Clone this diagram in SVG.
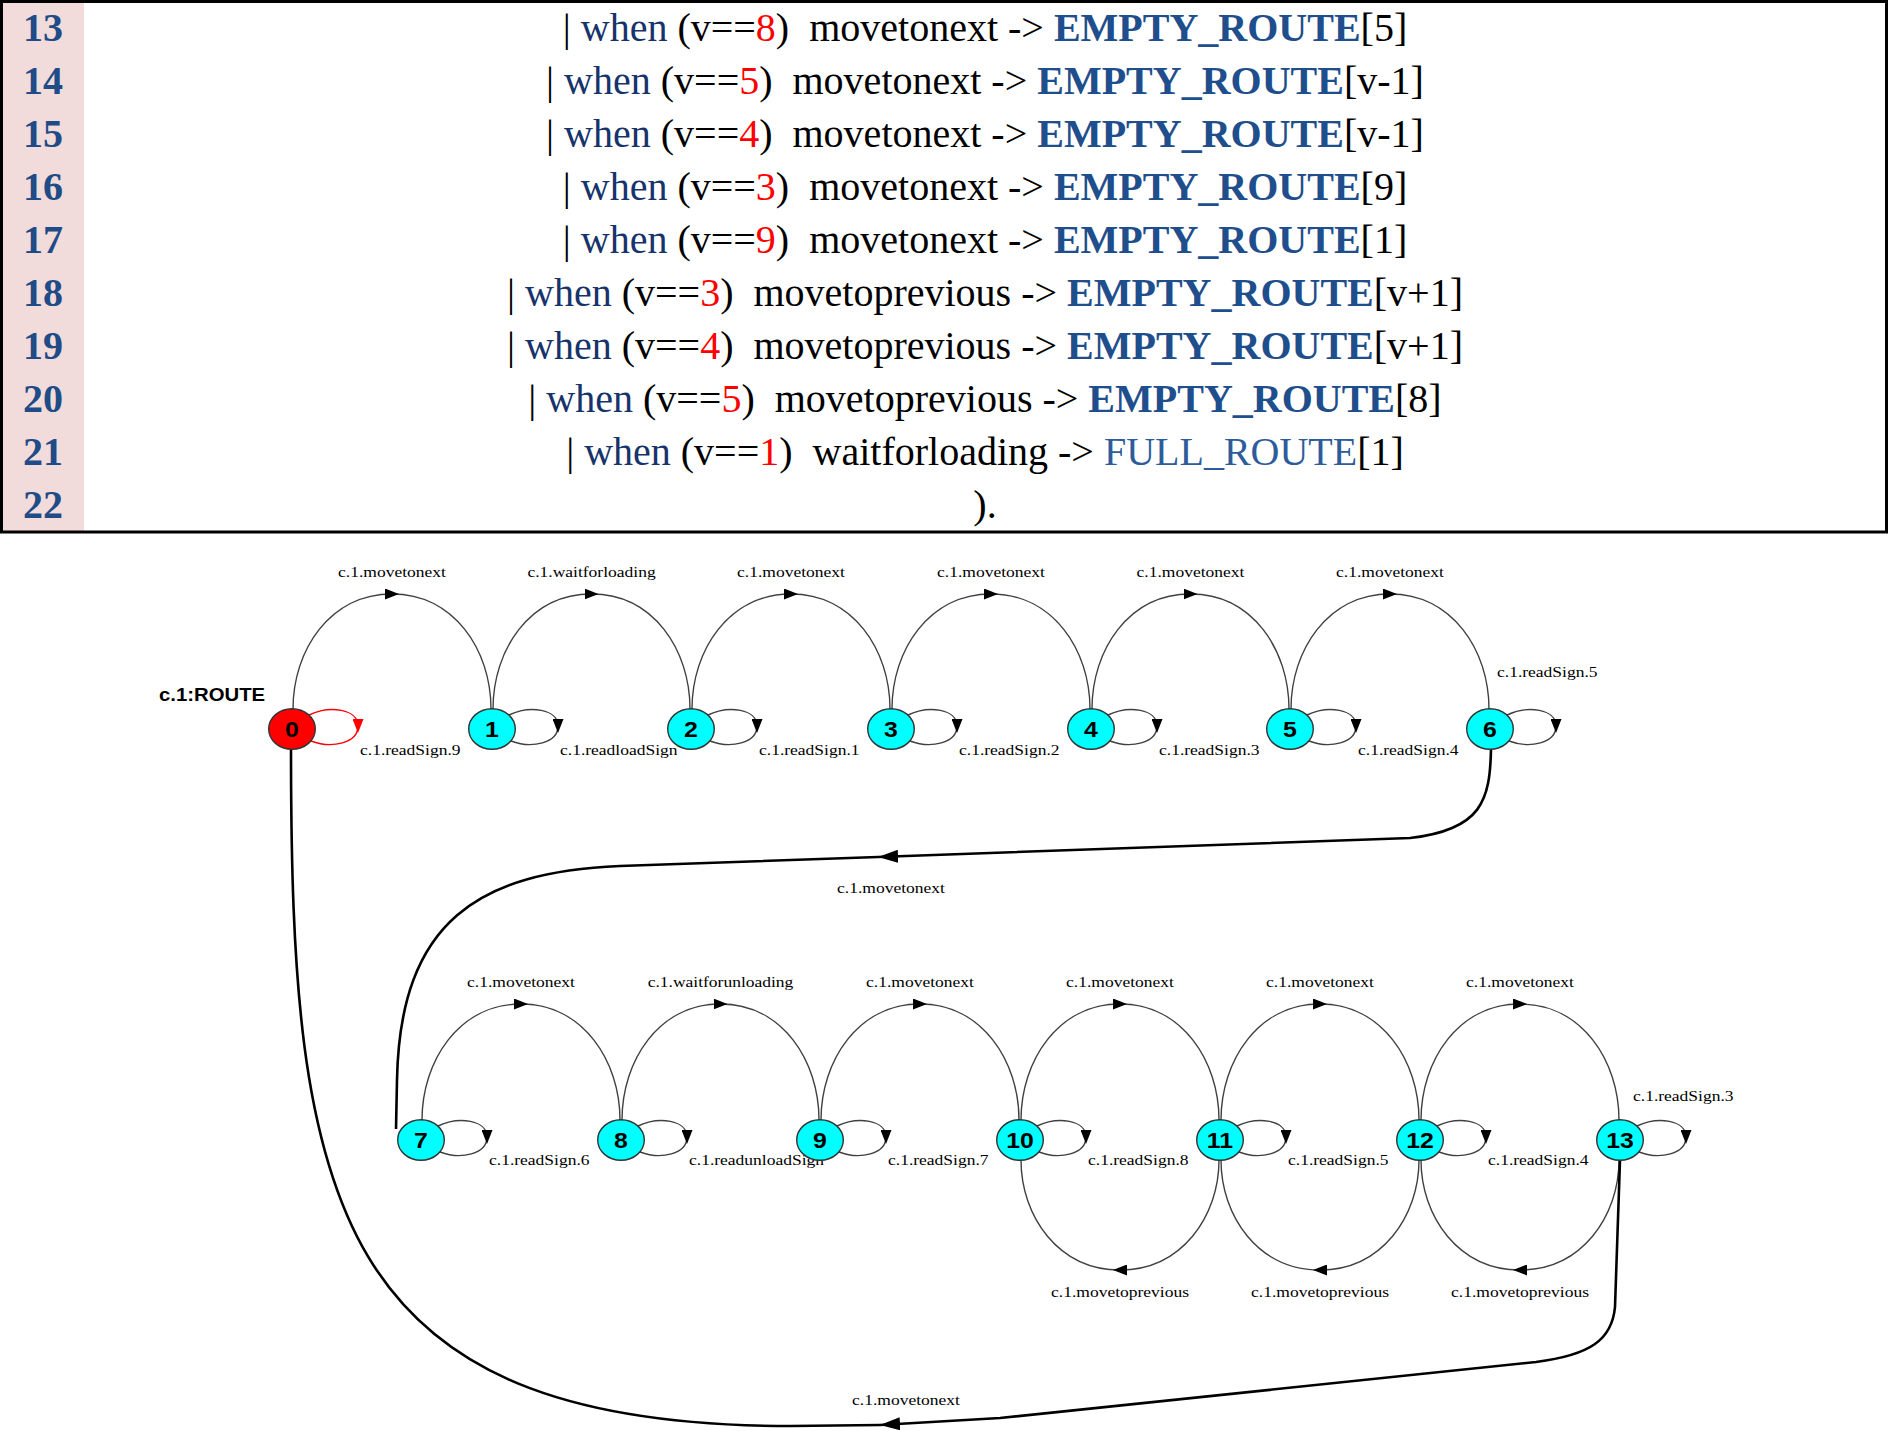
<svg xmlns="http://www.w3.org/2000/svg" width="1888" height="1431" viewBox="0 0 1888 1431">
<style>
.code{font-family:"Liberation Serif","Times New Roman",serif;font-size:40px;fill:#000}
.ln{font-family:"Liberation Serif","Times New Roman",serif;font-size:40px;font-weight:bold;fill:#1F4B87}
.kw{fill:#17336B}
.num{fill:#FF0000}
.er{fill:#1F4E8C;font-weight:bold}
.fr{fill:#2E5C9A}
.el{font-family:"Liberation Serif","Times New Roman",serif;font-size:15.5px;fill:#000}
.nl{font-family:"Liberation Sans",Arial,sans-serif;font-size:22px;font-weight:bold;fill:#000;text-anchor:middle}
.title{font-family:"Liberation Sans",Arial,sans-serif;font-size:18px;font-weight:bold;fill:#000}
.arc{fill:none;stroke:#404040;stroke-width:1.4;marker-mid:url(#ah)}
.loop{fill:none;stroke:#404040;stroke-width:1.4;marker-mid:url(#ah)}
.loopr{fill:none;stroke:#FF0000;stroke-width:1.4;marker-mid:url(#ahr)}
.thick{fill:none;stroke:#000;stroke-width:2.6}
.node{fill:#00FFFF;stroke:#333;stroke-width:1.4}
.start{fill:#FF0000;stroke:#333;stroke-width:1.4}
</style>
<defs>
<marker id="ah" viewBox="0 0 14 11" refX="7" refY="5.5" markerWidth="14" markerHeight="11" markerUnits="userSpaceOnUse" orient="auto"><path d="M0,0 L14,5.5 L0,11 z" fill="#000"/></marker>
<marker id="ahr" viewBox="0 0 14 11" refX="7" refY="5.5" markerWidth="14" markerHeight="11" markerUnits="userSpaceOnUse" orient="auto"><path d="M0,0 L14,5.5 L0,11 z" fill="#FF0000"/></marker>
<marker id="ahb" viewBox="0 0 20 13" refX="20" refY="6.5" markerWidth="20" markerHeight="13" markerUnits="userSpaceOnUse" orient="auto"><path d="M0,0 L20,6.5 L0,13 z" fill="#000"/></marker>
</defs>
<rect x="0" y="0" width="1888" height="1431" fill="#fff"/>

<g id="table">
<rect x="3" y="2" width="81" height="529" fill="#F2DCDB"/>
<rect x="1.5" y="1.5" width="1885" height="530.5" fill="none" stroke="#000" stroke-width="3"/>
<text class="ln" x="43" y="40.5" text-anchor="middle">13</text>
<text class="ln" x="43" y="93.5" text-anchor="middle">14</text>
<text class="ln" x="43" y="146.5" text-anchor="middle">15</text>
<text class="ln" x="43" y="199.5" text-anchor="middle">16</text>
<text class="ln" x="43" y="252.5" text-anchor="middle">17</text>
<text class="ln" x="43" y="305.5" text-anchor="middle">18</text>
<text class="ln" x="43" y="358.5" text-anchor="middle">19</text>
<text class="ln" x="43" y="411.5" text-anchor="middle">20</text>
<text class="ln" x="43" y="464.5" text-anchor="middle">21</text>
<text class="ln" x="43" y="517.5" text-anchor="middle">22</text>
<text class="code" x="985" y="40.5" text-anchor="middle" xml:space="preserve"><tspan>| </tspan><tspan class="kw">when</tspan><tspan> (v==</tspan><tspan class="num">8</tspan><tspan>)  movetonext -&gt; </tspan><tspan class="er">EMPTY_ROUTE</tspan><tspan>[5]</tspan></text>
<text class="code" x="985" y="93.5" text-anchor="middle" xml:space="preserve"><tspan>| </tspan><tspan class="kw">when</tspan><tspan> (v==</tspan><tspan class="num">5</tspan><tspan>)  movetonext -&gt; </tspan><tspan class="er">EMPTY_ROUTE</tspan><tspan>[v-1]</tspan></text>
<text class="code" x="985" y="146.5" text-anchor="middle" xml:space="preserve"><tspan>| </tspan><tspan class="kw">when</tspan><tspan> (v==</tspan><tspan class="num">4</tspan><tspan>)  movetonext -&gt; </tspan><tspan class="er">EMPTY_ROUTE</tspan><tspan>[v-1]</tspan></text>
<text class="code" x="985" y="199.5" text-anchor="middle" xml:space="preserve"><tspan>| </tspan><tspan class="kw">when</tspan><tspan> (v==</tspan><tspan class="num">3</tspan><tspan>)  movetonext -&gt; </tspan><tspan class="er">EMPTY_ROUTE</tspan><tspan>[9]</tspan></text>
<text class="code" x="985" y="252.5" text-anchor="middle" xml:space="preserve"><tspan>| </tspan><tspan class="kw">when</tspan><tspan> (v==</tspan><tspan class="num">9</tspan><tspan>)  movetonext -&gt; </tspan><tspan class="er">EMPTY_ROUTE</tspan><tspan>[1]</tspan></text>
<text class="code" x="985" y="305.5" text-anchor="middle" xml:space="preserve"><tspan>| </tspan><tspan class="kw">when</tspan><tspan> (v==</tspan><tspan class="num">3</tspan><tspan>)  movetoprevious -&gt; </tspan><tspan class="er">EMPTY_ROUTE</tspan><tspan>[v+1]</tspan></text>
<text class="code" x="985" y="358.5" text-anchor="middle" xml:space="preserve"><tspan>| </tspan><tspan class="kw">when</tspan><tspan> (v==</tspan><tspan class="num">4</tspan><tspan>)  movetoprevious -&gt; </tspan><tspan class="er">EMPTY_ROUTE</tspan><tspan>[v+1]</tspan></text>
<text class="code" x="985" y="411.5" text-anchor="middle" xml:space="preserve"><tspan>| </tspan><tspan class="kw">when</tspan><tspan> (v==</tspan><tspan class="num">5</tspan><tspan>)  movetoprevious -&gt; </tspan><tspan class="er">EMPTY_ROUTE</tspan><tspan>[8]</tspan></text>
<text class="code" x="985" y="464.5" text-anchor="middle" xml:space="preserve"><tspan>| </tspan><tspan class="kw">when</tspan><tspan> (v==</tspan><tspan class="num">1</tspan><tspan>)  waitforloading -&gt; </tspan><tspan class="fr">FULL_ROUTE</tspan><tspan>[1]</tspan></text>
<text class="code" x="985" y="517.5" text-anchor="middle">).</text>
</g>

<text class="title" transform="translate(159,701) scale(1.13,1)">c.1:ROUTE</text>

<g id="connectors">
<!-- top row movetonext arcs -->
<path class="arc" d="M293,709 C293,650 330,594 392,594 C454,594 491,650 491,709"/>
<path class="arc" d="M493,709 C493,650 529.5,594 591.5,594 C653.5,594 690,650 690,709"/>
<path class="arc" d="M692,709 C692,650 729,594 791,594 C853,594 890,650 890,709"/>
<path class="arc" d="M892,709 C892,650 929,594 991,594 C1053,594 1090,650 1090,709"/>
<path class="arc" d="M1092,709 C1092,650 1128.5,594 1190.5,594 C1252.5,594 1289,650 1289,709"/>
<path class="arc" d="M1291,709 C1291,650 1328,594 1390,594 C1452,594 1489,650 1489,709"/>
<!-- bottom row movetonext arcs -->
<path class="arc" d="M422,1120 C422,1061 459,1004 521,1004 C583,1004 620,1061 620,1120"/>
<path class="arc" d="M622,1120 C622,1061 658.5,1004 720.5,1004 C782.5,1004 819,1061 819,1120"/>
<path class="arc" d="M821,1120 C821,1061 858,1004 920,1004 C982,1004 1019,1061 1019,1120"/>
<path class="arc" d="M1021,1120 C1021,1061 1058,1004 1120,1004 C1182,1004 1219,1061 1219,1120"/>
<path class="arc" d="M1221,1120 C1221,1061 1258,1004 1320,1004 C1382,1004 1419,1061 1419,1120"/>
<path class="arc" d="M1421,1120 C1421,1061 1458,1004 1520,1004 C1582,1004 1619,1061 1619,1120"/>
<!-- movetoprevious arcs -->
<path class="arc" d="M1219,1160 C1219,1216 1182,1270 1120,1270 C1058,1270 1021,1216 1021,1160"/>
<path class="arc" d="M1419,1160 C1419,1216 1382,1270 1320,1270 C1258,1270 1221,1216 1221,1160"/>
<path class="arc" d="M1619,1160 C1619,1216 1582,1270 1520,1270 C1458,1270 1421,1216 1421,1160"/>
<!-- self loops -->
<path class="loopr" d="M309,715 C330,705 358,709 358,726 C358,743 332,749 311,741"/>
<path class="loop" d="M509,715 C530,705 558,709 558,726 C558,743 532,749 511,741"/>
<path class="loop" d="M708,715 C729,705 757,709 757,726 C757,743 731,749 710,741"/>
<path class="loop" d="M908,715 C929,705 957,709 957,726 C957,743 931,749 910,741"/>
<path class="loop" d="M1108,715 C1129,705 1157,709 1157,726 C1157,743 1131,749 1110,741"/>
<path class="loop" d="M1307,715 C1328,705 1356,709 1356,726 C1356,743 1330,749 1309,741"/>
<path class="loop" d="M1507,715 C1528,705 1556,709 1556,726 C1556,743 1530,749 1509,741"/>
<path class="loop" d="M438,1126 C459,1116 487,1120 487,1137 C487,1154 461,1160 440,1152"/>
<path class="loop" d="M638,1126 C659,1116 687,1120 687,1137 C687,1154 661,1160 640,1152"/>
<path class="loop" d="M837,1126 C858,1116 886,1120 886,1137 C886,1154 860,1160 839,1152"/>
<path class="loop" d="M1037,1126 C1058,1116 1086,1120 1086,1137 C1086,1154 1060,1160 1039,1152"/>
<path class="loop" d="M1237,1126 C1258,1116 1286,1120 1286,1137 C1286,1154 1260,1160 1239,1152"/>
<path class="loop" d="M1437,1126 C1458,1116 1486,1120 1486,1137 C1486,1154 1460,1160 1439,1152"/>
<path class="loop" d="M1637,1126 C1658,1116 1686,1120 1686,1137 C1686,1154 1660,1160 1639,1152"/>
<!-- 6 -> 7 -->
<path class="thick" marker-end="url(#ahb)" d="M1491,749 C1490,800 1482,830 1410,838 L878,857"/>
<path class="thick" d="M878,857 L620,866 C480,872 400,920 397,1080 L396,1129"/>
<!-- 13 -> 0 -->
<path class="thick" marker-end="url(#ahb)" d="M1620,1160 L1615,1307 C1612,1340 1590,1355 1536,1362 L1000,1418 L880,1425"/>
<path class="thick" d="M880,1425 L791,1426 C330,1426 291,1200 291,749"/>
<!-- edge labels -->
<g class="el" text-anchor="middle">
<text transform="translate(392,577) scale(1.13,1)">c.1.movetonext</text>
<text transform="translate(591.5,577) scale(1.13,1)">c.1.waitforloading</text>
<text transform="translate(791,577) scale(1.13,1)">c.1.movetonext</text>
<text transform="translate(991,577) scale(1.13,1)">c.1.movetonext</text>
<text transform="translate(1190.5,577) scale(1.13,1)">c.1.movetonext</text>
<text transform="translate(1390,577) scale(1.13,1)">c.1.movetonext</text>
<text transform="translate(521,987) scale(1.13,1)">c.1.movetonext</text>
<text transform="translate(720.5,987) scale(1.13,1)">c.1.waitforunloading</text>
<text transform="translate(920,987) scale(1.13,1)">c.1.movetonext</text>
<text transform="translate(1120,987) scale(1.13,1)">c.1.movetonext</text>
<text transform="translate(1320,987) scale(1.13,1)">c.1.movetonext</text>
<text transform="translate(1520,987) scale(1.13,1)">c.1.movetonext</text>
<text transform="translate(1120,1297) scale(1.13,1)">c.1.movetoprevious</text>
<text transform="translate(1320,1297) scale(1.13,1)">c.1.movetoprevious</text>
<text transform="translate(1520,1297) scale(1.13,1)">c.1.movetoprevious</text>
<text transform="translate(891,893) scale(1.13,1)">c.1.movetonext</text>
<text transform="translate(906,1405) scale(1.13,1)">c.1.movetonext</text>
</g>
<g class="el">
<text transform="translate(360,755) scale(1.13,1)">c.1.readSign.9</text>
<text transform="translate(560,755) scale(1.13,1)">c.1.readloadSign</text>
<text transform="translate(759,755) scale(1.13,1)">c.1.readSign.1</text>
<text transform="translate(959,755) scale(1.13,1)">c.1.readSign.2</text>
<text transform="translate(1159,755) scale(1.13,1)">c.1.readSign.3</text>
<text transform="translate(1358,755) scale(1.13,1)">c.1.readSign.4</text>
<text transform="translate(1497,677) scale(1.13,1)">c.1.readSign.5</text>
<text transform="translate(489,1165) scale(1.13,1)">c.1.readSign.6</text>
<text transform="translate(689,1165) scale(1.13,1)">c.1.readunloadSign</text>
<text transform="translate(888,1165) scale(1.13,1)">c.1.readSign.7</text>
<text transform="translate(1088,1165) scale(1.13,1)">c.1.readSign.8</text>
<text transform="translate(1288,1165) scale(1.13,1)">c.1.readSign.5</text>
<text transform="translate(1488,1165) scale(1.13,1)">c.1.readSign.4</text>
<text transform="translate(1633,1101) scale(1.13,1)">c.1.readSign.3</text>
</g>
</g>

<g id="node0"><ellipse class="start" cx="292" cy="729" rx="23.3" ry="20.3"/><text class="nl" transform="translate(292,737) scale(1.13,1)">0</text></g>
<g id="node1"><ellipse class="node" cx="492" cy="729" rx="23.3" ry="20.3"/><text class="nl" transform="translate(492,737) scale(1.13,1)">1</text></g>
<g id="node2"><ellipse class="node" cx="691" cy="729" rx="23.3" ry="20.3"/><text class="nl" transform="translate(691,737) scale(1.13,1)">2</text></g>
<g id="node3"><ellipse class="node" cx="891" cy="729" rx="23.3" ry="20.3"/><text class="nl" transform="translate(891,737) scale(1.13,1)">3</text></g>
<g id="node4"><ellipse class="node" cx="1091" cy="729" rx="23.3" ry="20.3"/><text class="nl" transform="translate(1091,737) scale(1.13,1)">4</text></g>
<g id="node5"><ellipse class="node" cx="1290" cy="729" rx="23.3" ry="20.3"/><text class="nl" transform="translate(1290,737) scale(1.13,1)">5</text></g>
<g id="node6"><ellipse class="node" cx="1490" cy="729" rx="23.3" ry="20.3"/><text class="nl" transform="translate(1490,737) scale(1.13,1)">6</text></g>
<g id="node7"><ellipse class="node" cx="421" cy="1140" rx="23.3" ry="20.3"/><text class="nl" transform="translate(421,1148) scale(1.13,1)">7</text></g>
<g id="node8"><ellipse class="node" cx="621" cy="1140" rx="23.3" ry="20.3"/><text class="nl" transform="translate(621,1148) scale(1.13,1)">8</text></g>
<g id="node9"><ellipse class="node" cx="820" cy="1140" rx="23.3" ry="20.3"/><text class="nl" transform="translate(820,1148) scale(1.13,1)">9</text></g>
<g id="node10"><ellipse class="node" cx="1020" cy="1140" rx="23.3" ry="20.3"/><text class="nl" transform="translate(1020,1148) scale(1.13,1)">10</text></g>
<g id="node11"><ellipse class="node" cx="1220" cy="1140" rx="23.3" ry="20.3"/><text class="nl" transform="translate(1220,1148) scale(1.13,1)">11</text></g>
<g id="node12"><ellipse class="node" cx="1420" cy="1140" rx="23.3" ry="20.3"/><text class="nl" transform="translate(1420,1148) scale(1.13,1)">12</text></g>
<g id="node13"><ellipse class="node" cx="1620" cy="1140" rx="23.3" ry="20.3"/><text class="nl" transform="translate(1620,1148) scale(1.13,1)">13</text></g>
</svg>
